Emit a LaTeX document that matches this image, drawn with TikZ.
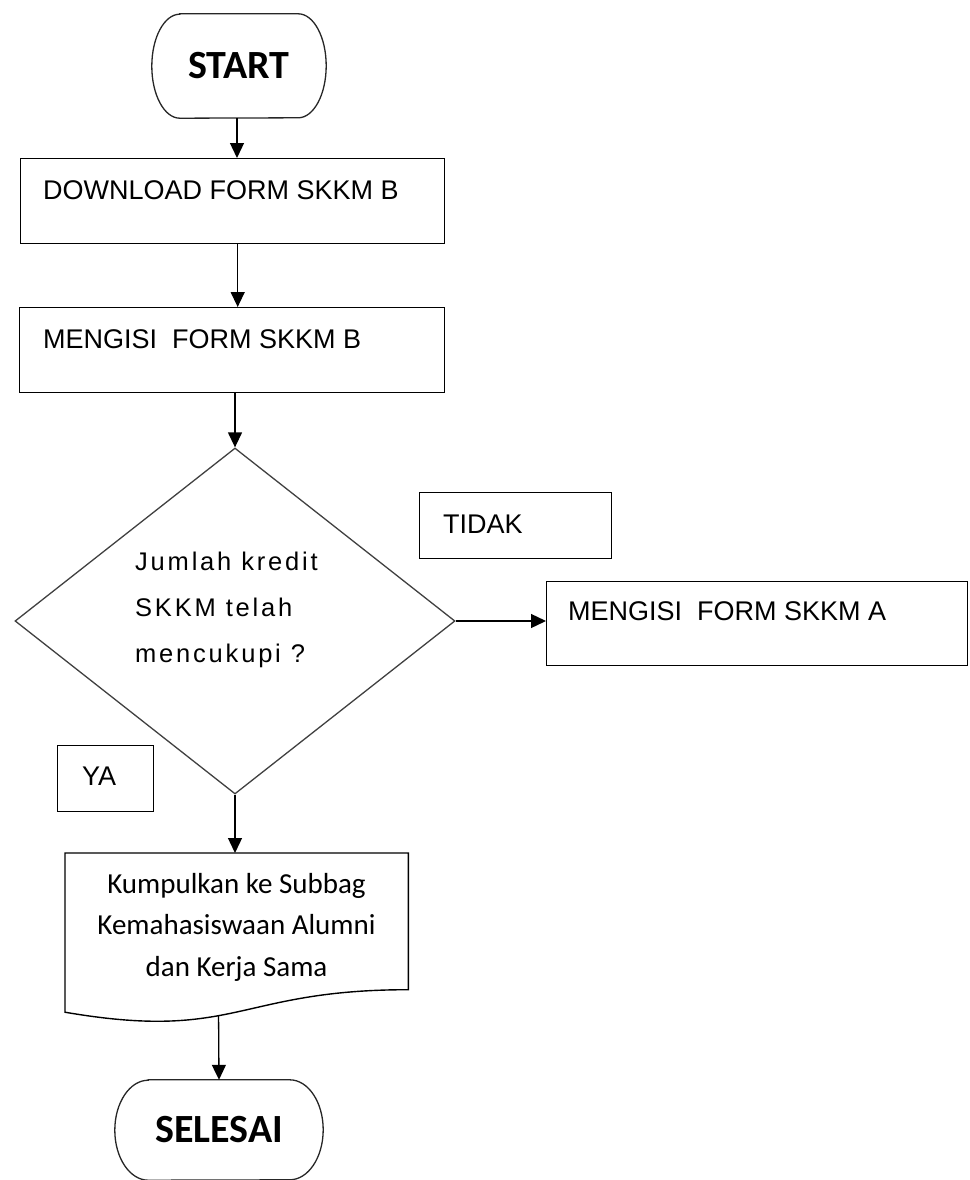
\documentclass[tikz,border=0pt]{standalone}
\usepackage{fontspec}
\setmainfont{Liberation Sans}
\newfontfamily\calib{Carlito}
\newfontfamily\spaced[LetterSpace=11]{Liberation Sans}
\usetikzlibrary{shapes.geometric,arrows.meta,calc}
\tikzset{
  boxline/.style={draw=black, line width=1.4pt},
  termline/.style={draw=black!85, line width=1.3pt},
  box/.style={boxline, rectangle, inner sep=0pt, anchor=north west},
  term/.style={rectangle, inner sep=0pt, font=\calib\bfseries\fontsize{40pt}{40pt}\selectfont},
  lbl/.style={font=\fontsize{27pt}{30pt}\selectfont, anchor=base west, inner sep=0pt},
  qtext/.style={font=\spaced\fontsize{25.5pt}{46pt}\selectfont, align=left, anchor=north west, inner sep=0pt},
  dtext/.style={font=\calib\fontsize{29pt}{41.5pt}\selectfont, align=center, inner sep=0pt},
  dia/.style={diamond, draw=black!75, line width=1.3pt, inner sep=0pt},
  arr/.style={line width=1.3pt, -{Triangle[length=15pt,width=14pt]}}
}
\newcommand{\termpath}[3]{%
  \draw[termline] ([xshift=#2]#1.north west) -- ([xshift=-#2]#1.north east)
    arc[start angle=90,end angle=-90,x radius=#2,y radius=#3]
    -- ([xshift=#2]#1.south west)
    arc[start angle=270,end angle=90,x radius=#2,y radius=#3] -- cycle;}
\begin{document}
\begin{tikzpicture}[x=1pt,y=-1pt]
\useasboundingbox (0,0) rectangle (969,1180);
% START
\node[term, minimum width=174pt, minimum height=104pt] (start) at (239,66) {START};
\termpath{start}{28pt}{52pt}
% boxes
\node[box, minimum width=424pt, minimum height=85pt] (dl) at (20,158) {};
\node[lbl] (dlt) at (43,199) {DOWNLOAD FORM SKKM B};
\node[box, minimum width=425pt, minimum height=85pt] (mb) at (19,307) {};
\node[lbl] (mbt) at (43,348) {MENGISI\ \ FORM SKKM B};
% decision
\node[dia, minimum width=440pt, minimum height=346pt] (dia) at (235,621) {};
\node[qtext] (q) at (135,552) {Jumlah kredit\\SKKM telah\\mencukupi ?};
\node[box, minimum width=192pt, minimum height=66pt] (tidak) at (419,492) {};
\node[lbl] (tidakt) at (443,533) {TIDAK};
\node[box, minimum width=421pt, minimum height=84pt] (ma) at (546,581) {};
\node[lbl] (mat) at (568,620) {MENGISI\ \ FORM SKKM A};
\node[box, minimum width=96pt, minimum height=66pt] (ya) at (57,745) {};
\node[lbl] (yat) at (82,785) {YA};
% document
\node[rectangle, inner sep=0pt, anchor=north west, minimum width=343pt, minimum height=136.3pt] (doc) at (65,853) {};
\draw[boxline] (doc.north west) -- (doc.north east) -- (doc.south east)
  .. controls (doc.south) and ($(doc.south)+(0,52)$) .. ($(doc.south west)+(0,22.5)$)
  coordinate[pos=0.57] (docb) -- cycle;
\node[dtext] (doct) at (236.5,927) {Kumpulkan ke Subbag\\Kemahasiswaan Alumni\\dan Kerja Sama};
% SELESAI
\node[term, minimum width=208pt, minimum height=100pt] (sel) at (219,1130) {SELESAI};
\termpath{sel}{33.5pt}{50pt}
% connectors
\draw[arr] ([xshift=-2pt]start.south) -- ([xshift=-2pt]start.south |- dl.north);
\draw[arr] ([xshift=5pt]dl.south) -- ([xshift=5pt]dl.south |- mb.north);
\draw[arr] (mb.south -| dia.north) -- (dia.north);
\draw[arr] (dia.east) -- (dia.east -| ma.west);
\draw[arr] (dia.south) -- (dia.south |- doc.north);
\draw[arr] (docb) -- (sel.north);
\end{tikzpicture}
\end{document}
